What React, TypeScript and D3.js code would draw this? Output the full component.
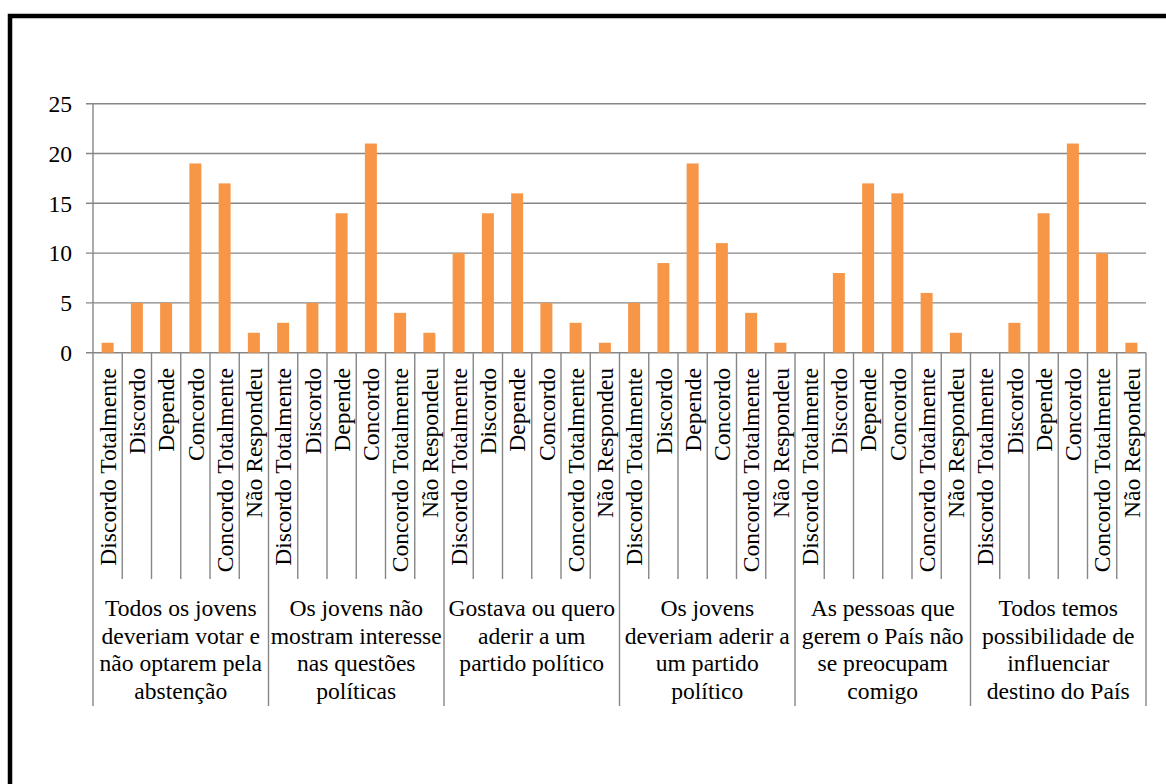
import React from "react";
import * as d3 from "d3";

const responses = ["Discordo Totalmente", "Discordo", "Depende", "Concordo", "Concordo Totalmente", "Não Respondeu"];
const groups = [
  ["Todos os jovens", "deveriam votar e", "não optarem pela", "abstenção"],
  ["Os jovens não", "mostram interesse", "nas questões", "políticas"],
  ["Gostava ou quero", "aderir a um", "partido político"],
  ["Os jovens", "deveriam aderir a", "um partido", "político"],
  ["As pessoas que", "gerem o País não", "se preocupam", "comigo"],
  ["Todos temos", "possibilidade de", "influenciar", "destino do País"],
];
const g1Values = [1, 5, 5, 19, 17, 2];
const g2Values = [3, 5, 14, 21, 4, 2];
const g3Values = [10, 14, 16, 5, 3, 1];
const g4Values = [5, 9, 19, 11, 4, 1];
const g5Values = [0, 8, 17, 16, 6, 2];
const g6Values = [0, 3, 14, 21, 10, 1];
const yTicks = [0, 5, 10, 15, 20, 25];

const W = 1166, H = 784;
const left = 93, right = 1146, top = 103.7, bottom = 352.7;
const FS = 23.6;
const fam = { fontFamily: `"Liberation Serif"` };

export default function App() {
  const allValues = [g1Values, g2Values, g3Values, g4Values, g5Values, g6Values];
  const rows = allValues.flatMap((vals, gi) =>
    vals.map((v, ri) => ({ key: `${gi}-${ri}`, gi, ri, label: responses[ri], value: v }))
  );
  const x = d3.scaleBand<string>().domain(rows.map(r => r.key)).range([left, right]).paddingInner(0.59).paddingOuter(0.295);
  const xs = d3.scaleBand<string>().domain(rows.map(r => r.key)).range([left, right]);
  const y = d3.scaleLinear().domain([0, 25]).range([bottom, top]);
  const step = xs.step();
  const grid = "#868686";

  return (
    <svg width={W} height={H} style={{ position: "absolute", left: 0, top: 0 }}>
      <rect x={10} y={16} width={1300} height={900} fill="#fff" stroke="#000" strokeWidth={4.5} />
      {yTicks.map(t => (
        <g key={t}>
          <line x1={left - 7} x2={right} y1={y(t)} y2={y(t)} stroke={grid} strokeWidth={1.4} />
          <text x={72} y={y(t)} dy="0.35em" textAnchor="end" fontSize={FS} style={fam} fill="#000">{t}</text>
        </g>
      ))}
      {rows.map(r => (
        <rect key={r.key} x={x(r.key)} y={y(r.value)} width={x.bandwidth()} height={bottom - y(r.value)} fill="#F79646" />
      ))}
      {rows.map((r, i) => {
        const xx = left + i * step;
        const isGroup = i % 6 === 0;
        return <line key={"s" + i} x1={xx} x2={xx} y1={bottom} y2={isGroup ? 706 : 579} stroke={grid} strokeWidth={1.4} />;
      })}
      <line x1={right} x2={right} y1={bottom} y2={706} stroke={grid} strokeWidth={1.4} />
      <line x1={left} x2={left} y1={top} y2={bottom} stroke={grid} strokeWidth={1.4} />
      {rows.map(r => {
        const cx = (xs(r.key) as number) + step / 2;
        return (
          <text key={"l" + r.key} transform={`translate(${cx},368) rotate(-90)`} dy="0.35em" textAnchor="end"
            fontSize={FS} style={fam} fill="#000">{r.label}</text>
        );
      })}
      {groups.map((lines, gi) => {
        const cx = left + (gi * 6 + 3) * step;
        return (
          <text key={"g" + gi} textAnchor="middle" fontSize={FS} style={fam} fill="#000">
            {lines.map((ln, li) => (
              <tspan key={li} x={cx} y={616 + li * 27.7}>{ln}</tspan>
            ))}
          </text>
        );
      })}
    </svg>
  );
}
